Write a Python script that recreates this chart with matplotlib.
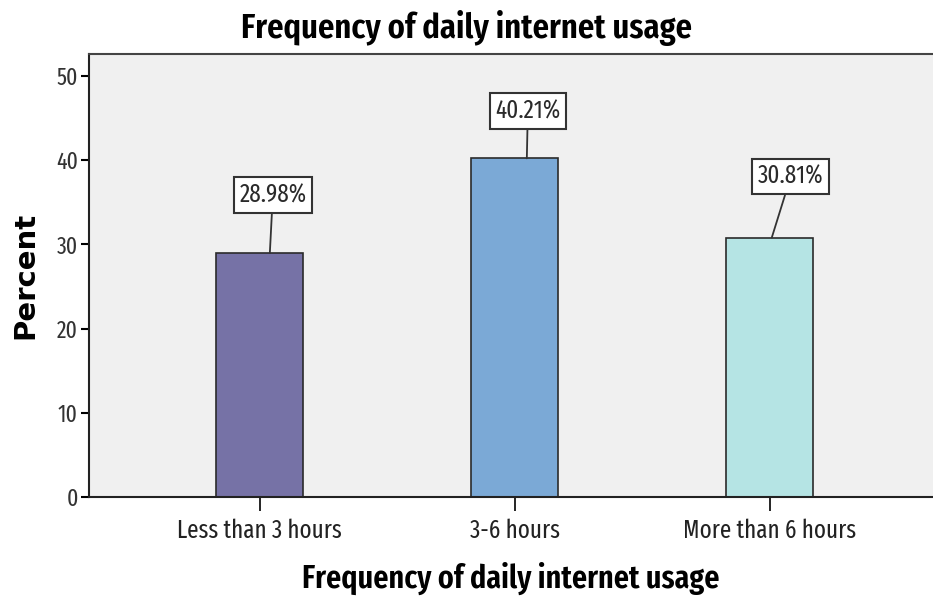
import matplotlib.pyplot as plt
import matplotlib.transforms as mtransforms
import numpy as np

categories = ["Less than 3 hours", "3-6 hours", "More than 6 hours"]
percents = [28.98, 40.21, 30.81]
colors = ["#7672a6", "#7ba9d6", "#b5e4e4"]

plt.rcParams["font.family"] = ["Fira Sans Extra Condensed", "DejaVu Sans"]
plt.rcParams["font.stretch"] = "condensed"

fig = plt.figure(figsize=(9.33, 5.99), dpi=100)
ax = fig.add_axes([89 / 933, 1 - 497 / 599, 1 - 89 / 933, (497 - 54) / 599])
ax.set_facecolor("#f0f0f0")

x = np.arange(len(categories))
ax.bar(x, percents, width=0.34, color=colors, edgecolor="#2b2b2b", linewidth=1.2, zorder=2)

# boxed value labels: leader line start (px from bar centre) and box offset from it
line_dx = [10, 12, 2]
box_off = [(3, 58), (1, 47), (19, 61)]
for xi, p, ldx, (bx, by) in zip(x, percents, line_dx, box_off):
    tr = mtransforms.offset_copy(ax.transData, fig=fig, x=ldx, y=0, units="dots")
    ax.annotate("%.2f%%" % p, xy=(xi, p), xycoords=tr, xytext=(bx, by),
                textcoords="offset pixels", ha="center", va="center", fontsize=18,
                color="#2a2a2a",
                bbox=dict(boxstyle="square,pad=0.22", fc="white", ec="#333333", lw=1.5),
                arrowprops=dict(arrowstyle="-", color="#333333", lw=1.3, shrinkA=0, shrinkB=0))

ax.set_xlim(-0.67, 2.64)
ax.set_ylim(0, 52.6)
ax.set_yticks([0, 10, 20, 30, 40, 50])
ax.set_xticks(x)
ax.set_xticklabels(categories)
ax.tick_params(axis="y", length=6, width=1.5, labelsize=17, labelcolor="#333333", pad=2)
ax.tick_params(axis="x", length=10, width=1.2, labelsize=18, labelcolor="#222222", pad=5)
for side in ["left", "bottom"]:
    ax.spines[side].set_linewidth(1.5)
    ax.spines[side].set_color("#222222")
ax.spines["top"].set_color("#444444")
ax.spines["top"].set_linewidth(1.5)
ax.spines["right"].set_visible(False)

ax.set_ylabel("Percent", fontsize=21, fontweight="bold", family="DejaVu Sans",
              fontstretch="normal", labelpad=12)
ax.set_xlabel("Frequency of daily internet usage", fontsize=23.5, fontweight="semibold", labelpad=14)
fig.text(0.5, 1 - 28 / 599, "Frequency of daily internet usage", ha="center", va="center",
         fontsize=25.5, fontweight="semibold")

fig.savefig("out.png")
